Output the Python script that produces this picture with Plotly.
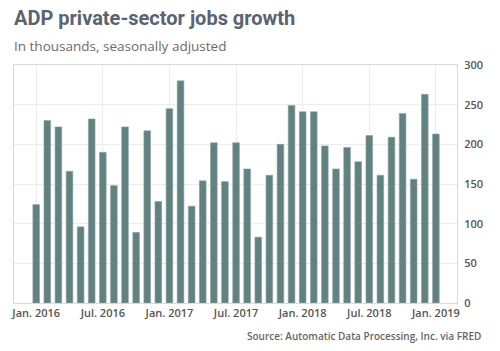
import plotly.graph_objects as go

months = [
    "2016-01","2016-02","2016-03","2016-04","2016-05","2016-06","2016-07","2016-08","2016-09","2016-10","2016-11","2016-12",
    "2017-01","2017-02","2017-03","2017-04","2017-05","2017-06","2017-07","2017-08","2017-09","2017-10","2017-11","2017-12",
    "2018-01","2018-02","2018-03","2018-04","2018-05","2018-06","2018-07","2018-08","2018-09","2018-10","2018-11","2018-12",
    "2019-01",
]
jobs = [124, 230, 222, 166, 96, 232, 190, 148, 222, 89, 217, 128,
        245, 280, 122, 154, 202, 153, 202, 169, 83, 161, 200, 249,
        241, 241, 198, 169, 196, 178, 211, 161, 209, 239, 156, 263,
        213]
tick_labels = ["Jan. 2016", "Jul. 2016", "Jan. 2017", "Jul. 2017", "Jan. 2018", "Jul. 2018", "Jan. 2019"]
y_ticks = [0, 50, 100, 150, 200, 250, 300]

idx = list(range(len(months)))

fig = go.Figure(go.Bar(
    x=idx, y=jobs, width=0.6,
    marker=dict(color="#628181", line=dict(color="#8aa3a3", width=0.6)),
    hovertext=months,
))

fig.update_layout(
    width=500, height=351,
    margin=dict(l=14, r=43, t=65, b=48),
    paper_bgcolor="white", plot_bgcolor="white",
    showlegend=False,
    bargap=0.4,
    font=dict(family="Open Sans", color="#555"),
    xaxis=dict(
        range=[-2, 37.9],
        tickvals=[0, 6, 12, 18, 24, 30, 36],
        ticktext=tick_labels,
        showgrid=True, gridcolor="#ececec", gridwidth=1,
        showline=True, linecolor="#d9d9d9", linewidth=1, mirror=True,
        ticks="", zeroline=False,
        tickfont=dict(family="Open Sans", size=11, color="#555", weight=600),
    ),
    yaxis=dict(
        range=[0, 300],
        tickvals=y_ticks,
        side="right",
        showgrid=True, gridcolor="#ececec", gridwidth=1,
        showline=True, linecolor="#d9d9d9", linewidth=1, mirror=True,
        ticks="", zeroline=False,
        tickfont=dict(family="Open Sans", size=11, color="#555", weight=600),
        ticklabelstandoff=4,
    ),
    annotations=[
        dict(text="<b>ADP private-sector jobs growth</b>", xref="paper", yref="paper",
             x=-0.005, y=1.0, xanchor="left", yanchor="bottom", yshift=33, showarrow=False,
             font=dict(family="Roboto", size=20, color="#5a6373")),
        dict(text="In thousands, seasonally adjusted", xref="paper", yref="paper",
             x=-0.005, y=1.0, xanchor="left", yanchor="bottom", yshift=8, showarrow=False,
             font=dict(family="Open Sans", size=13.5, color="#6b6b6b")),
        dict(text="Source: Automatic Data Processing, Inc. via FRED", xref="paper", yref="paper",
             x=1.0, y=0, xanchor="right", yanchor="top", xshift=26, yshift=-24, showarrow=False,
             font=dict(family="Open Sans", size=10, color="#666", weight=600)),
    ],
)

fig.write_html("out.html")
